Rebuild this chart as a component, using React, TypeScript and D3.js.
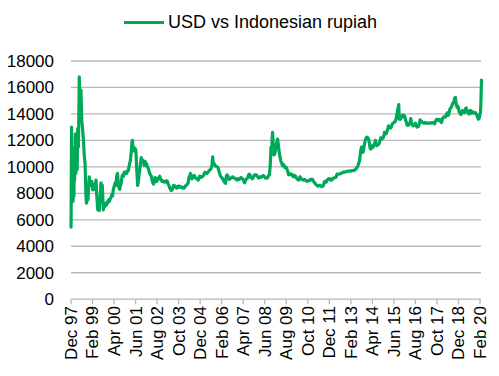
import React from "react";
import * as d3 from "d3";

const legendLabel = "USD vs Indonesian rupiah";
const yTicks = [0, 2000, 4000, 6000, 8000, 10000, 12000, 14000, 16000, 18000];
const xTickLabels = ["Dec 97", "Feb 99", "Apr 00", "Jun 01", "Aug 02", "Oct 03", "Dec 04", "Feb 06", "Apr 07", "Jun 08", "Aug 09", "Oct 10", "Dec 11", "Feb 13", "Apr 14", "Jun 15", "Aug 16", "Oct 17", "Dec 18", "Feb 20"];
const monthsPerTick = 14;
const axisStart = "1997-12-25";

const points: [string, number][] = [
  ["1997-12-26", 5450], ["1998-01-05", 13000], ["1998-01-10", 7300], ["1998-01-14", 11500],
  ["1998-01-20", 8000], ["1998-01-27", 10800], ["1998-02-04", 7400], ["1998-02-12", 10500],
  ["1998-02-20", 7800], ["1998-02-27", 10200], ["1998-03-05", 9000], ["1998-03-19", 12500],
  ["1998-03-30", 9500], ["1998-04-15", 10700], ["1998-04-25", 9800], ["1998-05-05", 12900],
  ["1998-05-20", 11500], ["1998-06-06", 16800], ["1998-06-15", 15000], ["1998-06-26", 14800],
  ["1998-07-09", 15800], ["1998-07-25", 13500], ["1998-08-12", 12800], ["1998-08-28", 12000],
  ["1998-09-14", 10800], ["1998-09-30", 10200], ["1998-10-17", 7750], ["1998-10-27", 7250],
  ["1998-11-10", 8200], ["1998-11-25", 7500], ["1998-12-08", 8400], ["1998-12-21", 9250],
  ["1999-01-05", 8600], ["1999-01-24", 8760], ["1999-02-10", 8900], ["1999-02-26", 8260],
  ["1999-03-15", 8700], ["1999-04-01", 8300], ["1999-04-15", 8500], ["1999-05-03", 9000],
  ["1999-05-18", 7800], ["1999-06-06", 6750], ["1999-06-20", 7100], ["1999-07-06", 6700],
  ["1999-07-22", 7600], ["1999-08-09", 8800], ["1999-08-20", 8300], ["1999-09-05", 8600],
  ["1999-09-25", 6750], ["1999-10-10", 7200], ["1999-10-25", 7000], ["1999-11-10", 7250],
  ["1999-11-25", 7100], ["1999-12-10", 7350], ["1999-12-25", 7300], ["2000-01-10", 7500],
  ["2000-01-25", 7400], ["2000-02-10", 7600], ["2000-02-25", 7700], ["2000-03-10", 7900],
  ["2000-03-25", 7800], ["2000-04-10", 8300], ["2000-04-25", 8500], ["2000-05-18", 8800],
  ["2000-06-01", 8600], ["2000-06-15", 9300], ["2000-07-01", 9500], ["2000-07-15", 8900],
  ["2000-08-01", 8400], ["2000-08-15", 8300], ["2000-09-01", 8600], ["2000-09-15", 8800],
  ["2000-10-01", 9300], ["2000-10-15", 9400], ["2000-11-01", 9300], ["2000-11-15", 9600],
  ["2000-12-01", 9500], ["2000-12-15", 9600], ["2001-01-01", 9500], ["2001-01-15", 9700],
  ["2001-02-01", 9700], ["2001-02-15", 10000], ["2001-03-01", 10300], ["2001-03-15", 10500],
  ["2001-04-01", 11200], ["2001-04-15", 11900], ["2001-04-25", 12000], ["2001-05-05", 11200],
  ["2001-05-20", 11500], ["2001-06-01", 11200], ["2001-06-15", 11400], ["2001-07-01", 11200],
  ["2001-07-15", 10000], ["2001-07-25", 9300], ["2001-08-05", 8600], ["2001-08-20", 8900],
  ["2001-09-01", 9400], ["2001-09-15", 9700], ["2001-10-01", 10300], ["2001-10-15", 10700],
  ["2001-10-25", 10500], ["2001-11-05", 10400], ["2001-11-20", 10500], ["2001-12-01", 10300],
  ["2001-12-15", 10100], ["2002-01-01", 10400], ["2002-01-15", 10300], ["2002-02-01", 10200],
  ["2002-02-15", 10000], ["2002-03-01", 9900], ["2002-03-15", 9700], ["2002-04-01", 9500],
  ["2002-04-15", 9400], ["2002-05-01", 9300], ["2002-05-15", 9000], ["2002-06-01", 8800],
  ["2002-06-15", 8700], ["2002-07-01", 8900], ["2002-07-15", 9200], ["2002-08-01", 9100],
  ["2002-08-15", 8900], ["2002-09-01", 9000], ["2002-09-15", 9100], ["2002-10-01", 9200],
  ["2002-10-15", 9300], ["2002-11-01", 9100], ["2002-11-15", 9000], ["2002-12-01", 8900],
  ["2002-12-15", 8950], ["2003-01-01", 8900], ["2003-01-15", 8850], ["2003-02-01", 8900],
  ["2003-02-15", 8850], ["2003-03-01", 8950], ["2003-03-15", 8900], ["2003-04-01", 8700],
  ["2003-04-15", 8600], ["2003-05-01", 8400], ["2003-05-15", 8300], ["2003-06-01", 8200],
  ["2003-06-15", 8250], ["2003-07-01", 8400], ["2003-07-15", 8600], ["2003-08-01", 8500],
  ["2003-08-15", 8550], ["2003-09-01", 8450], ["2003-09-15", 8400], ["2003-10-01", 8500],
  ["2003-10-15", 8450], ["2003-11-01", 8550], ["2003-11-15", 8500], ["2003-12-01", 8450],
  ["2003-12-15", 8500], ["2004-01-01", 8450], ["2004-01-15", 8400], ["2004-02-01", 8450],
  ["2004-02-15", 8400], ["2004-03-01", 8500], ["2004-03-15", 8600], ["2004-04-01", 8650],
  ["2004-04-15", 8700], ["2004-05-01", 8800], ["2004-05-15", 9200], ["2004-06-01", 9300],
  ["2004-06-15", 9500], ["2004-07-01", 9300], ["2004-07-15", 9100], ["2004-08-01", 9200],
  ["2004-08-15", 9300], ["2004-09-01", 9350], ["2004-09-15", 9200], ["2004-10-01", 9150],
  ["2004-10-15", 9100], ["2004-11-01", 9050], ["2004-11-15", 9000], ["2004-12-01", 9150],
  ["2004-12-15", 9300], ["2005-01-01", 9250], ["2005-01-15", 9200], ["2005-02-01", 9250],
  ["2005-02-15", 9300], ["2005-03-01", 9350], ["2005-03-15", 9500], ["2005-04-01", 9600],
  ["2005-04-15", 9550], ["2005-05-01", 9500], ["2005-05-15", 9550], ["2005-06-01", 9600],
  ["2005-06-15", 9700], ["2005-07-01", 9750], ["2005-07-15", 9800], ["2005-08-01", 9900],
  ["2005-08-15", 10100], ["2005-08-30", 10750], ["2005-09-10", 10300], ["2005-09-25", 10250],
  ["2005-10-10", 10150], ["2005-10-25", 10050], ["2005-11-10", 10050], ["2005-11-25", 10000],
  ["2005-12-10", 9950], ["2005-12-25", 9800], ["2006-01-10", 9550], ["2006-01-25", 9400],
  ["2006-02-10", 9250], ["2006-02-25", 9200], ["2006-03-10", 9100], ["2006-03-25", 9050],
  ["2006-04-10", 8900], ["2006-04-25", 8800], ["2006-05-10", 8750], ["2006-05-25", 9300],
  ["2006-06-10", 9400], ["2006-06-25", 9300], ["2006-07-10", 9150], ["2006-07-25", 9050],
  ["2006-08-10", 9100], ["2006-08-25", 9150], ["2006-09-10", 9200], ["2006-09-25", 9250],
  ["2006-10-10", 9200], ["2006-10-25", 9150], ["2006-11-10", 9150], ["2006-11-25", 9100],
  ["2006-12-10", 9050], ["2006-12-25", 9000], ["2007-01-10", 9100], ["2007-01-25", 9050],
  ["2007-02-10", 9050], ["2007-02-25", 9150], ["2007-03-10", 9200], ["2007-03-25", 9150],
  ["2007-04-10", 9100], ["2007-04-25", 9050], ["2007-05-10", 8850], ["2007-05-25", 8800],
  ["2007-06-10", 9000], ["2007-06-25", 9100], ["2007-07-10", 9100], ["2007-07-25", 9200],
  ["2007-08-10", 9400], ["2007-08-25", 9450], ["2007-09-10", 9350], ["2007-09-25", 9200],
  ["2007-10-10", 9150], ["2007-10-25", 9100], ["2007-11-10", 9200], ["2007-11-25", 9350],
  ["2007-12-10", 9400], ["2007-12-25", 9400], ["2008-01-10", 9400], ["2008-01-25", 9300],
  ["2008-02-10", 9250], ["2008-02-25", 9150], ["2008-03-10", 9200], ["2008-03-25", 9250],
  ["2008-04-10", 9200], ["2008-04-25", 9250], ["2008-05-10", 9300], ["2008-05-25", 9350],
  ["2008-06-10", 9300], ["2008-06-25", 9250], ["2008-07-10", 9150], ["2008-07-25", 9150],
  ["2008-08-10", 9150], ["2008-08-25", 9200], ["2008-09-10", 9350], ["2008-09-25", 9400],
  ["2008-10-10", 10000], ["2008-10-20", 10800], ["2008-10-28", 11500], ["2008-11-10", 11000],
  ["2008-11-20", 12300], ["2008-11-28", 12600], ["2008-12-05", 12000], ["2008-12-15", 11000],
  ["2008-12-25", 10900], ["2009-01-10", 11000], ["2009-01-25", 11300], ["2009-02-10", 11700],
  ["2009-02-25", 12000], ["2009-03-05", 12100], ["2009-03-15", 11800], ["2009-03-25", 11500],
  ["2009-04-10", 11000], ["2009-04-25", 10700], ["2009-05-10", 10400], ["2009-05-25", 10300],
  ["2009-06-10", 10100], ["2009-06-25", 10200], ["2009-07-10", 10100], ["2009-07-25", 9950],
  ["2009-08-10", 10000], ["2009-08-25", 9950], ["2009-09-10", 9800], ["2009-09-25", 9650],
  ["2009-10-10", 9400], ["2009-10-25", 9500], ["2009-11-10", 9450], ["2009-11-25", 9400],
  ["2009-12-10", 9450], ["2009-12-25", 9400], ["2010-01-10", 9250], ["2010-01-25", 9300],
  ["2010-02-10", 9350], ["2010-02-25", 9300], ["2010-03-10", 9150], ["2010-03-25", 9100],
  ["2010-04-10", 9050], ["2010-04-25", 9000], ["2010-05-10", 9150], ["2010-05-25", 9250],
  ["2010-06-10", 9150], ["2010-06-25", 9050], ["2010-07-10", 9050], ["2010-07-25", 9000],
  ["2010-08-10", 9000], ["2010-08-25", 9050], ["2010-09-10", 9000], ["2010-09-25", 8950],
  ["2010-10-10", 8900], ["2010-10-25", 8950], ["2010-11-10", 8950], ["2010-11-25", 8950],
  ["2010-12-10", 9050], ["2010-12-25", 9000], ["2011-01-10", 9050], ["2011-01-25", 9050],
  ["2011-02-10", 8950], ["2011-02-25", 8850], ["2011-03-10", 8800], ["2011-03-25", 8700],
  ["2011-04-10", 8650], ["2011-04-25", 8600], ["2011-05-10", 8550], ["2011-05-25", 8550],
  ["2011-06-10", 8600], ["2011-06-25", 8600], ["2011-07-10", 8550], ["2011-07-25", 8500],
  ["2011-08-10", 8550], ["2011-08-25", 8550], ["2011-09-10", 8750], ["2011-09-25", 8900],
  ["2011-10-10", 8900], ["2011-10-25", 8850], ["2011-11-10", 9000], ["2011-11-25", 9050],
  ["2011-12-10", 9100], ["2011-12-25", 9050], ["2012-01-10", 9100], ["2012-01-25", 9000],
  ["2012-02-10", 9000], ["2012-02-25", 9050], ["2012-03-10", 9150], ["2012-03-25", 9150],
  ["2012-04-10", 9180], ["2012-04-25", 9200], ["2012-05-10", 9250], ["2012-05-25", 9450],
  ["2012-06-10", 9450], ["2012-06-25", 9450], ["2012-07-10", 9450], ["2012-07-25", 9480],
  ["2012-08-10", 9500], ["2012-08-25", 9530], ["2012-09-10", 9580], ["2012-09-25", 9580],
  ["2012-10-10", 9600], ["2012-10-25", 9610], ["2012-11-10", 9620], ["2012-11-25", 9630],
  ["2012-12-10", 9650], ["2012-12-25", 9680], ["2013-01-10", 9680], ["2013-01-25", 9680],
  ["2013-02-10", 9680], ["2013-02-25", 9690], ["2013-03-10", 9720], ["2013-03-25", 9720],
  ["2013-04-10", 9720], ["2013-04-25", 9730], ["2013-05-10", 9760], ["2013-05-25", 9800],
  ["2013-06-10", 9900], ["2013-06-25", 9950], ["2013-07-10", 10050], ["2013-07-25", 10250],
  ["2013-08-10", 10400], ["2013-08-25", 10800], ["2013-09-10", 11300], ["2013-09-25", 11500],
  ["2013-10-10", 11300], ["2013-10-25", 11100], ["2013-11-10", 11500], ["2013-11-25", 11800],
  ["2013-12-10", 12050], ["2013-12-25", 12200], ["2014-01-10", 12250], ["2014-01-25", 12200],
  ["2014-02-10", 12100], ["2014-02-25", 11800], ["2014-03-10", 11400], ["2014-03-25", 11350],
  ["2014-04-10", 11400], ["2014-04-25", 11600], ["2014-05-10", 11500], ["2014-05-25", 11600],
  ["2014-06-10", 11800], ["2014-06-25", 12000], ["2014-07-10", 11700], ["2014-07-25", 11600],
  ["2014-08-10", 11700], ["2014-08-25", 11700], ["2014-09-10", 11800], ["2014-09-25", 12000],
  ["2014-10-10", 12200], ["2014-10-25", 12100], ["2014-11-10", 12150], ["2014-11-25", 12200],
  ["2014-12-10", 12400], ["2014-12-20", 12600], ["2015-01-10", 12600], ["2015-01-25", 12500],
  ["2015-02-10", 12700], ["2015-02-25", 12900], ["2015-03-10", 13100], ["2015-03-25", 13050],
  ["2015-04-10", 12950], ["2015-04-25", 12950], ["2015-05-10", 13100], ["2015-05-25", 13250],
  ["2015-06-10", 13300], ["2015-06-25", 13350], ["2015-07-10", 13400], ["2015-07-25", 13450],
  ["2015-08-10", 13700], ["2015-08-25", 14000], ["2015-09-10", 14350], ["2015-09-29", 14700],
  ["2015-10-08", 13600], ["2015-10-20", 13700], ["2015-11-05", 13600], ["2015-11-20", 13750],
  ["2015-12-10", 13900], ["2015-12-25", 13800], ["2016-01-10", 13900], ["2016-01-25", 13850],
  ["2016-02-10", 13550], ["2016-02-25", 13400], ["2016-03-10", 13150], ["2016-03-25", 13250],
  ["2016-04-10", 13150], ["2016-04-25", 13200], ["2016-05-10", 13350], ["2016-05-25", 13650],
  ["2016-06-10", 13300], ["2016-06-25", 13200], ["2016-07-10", 13100], ["2016-07-25", 13150],
  ["2016-08-10", 13150], ["2016-08-25", 13300], ["2016-09-10", 13150], ["2016-09-25", 13000],
  ["2016-10-10", 13050], ["2016-10-25", 13050], ["2016-11-10", 13250], ["2016-11-25", 13550],
  ["2016-12-10", 13400], ["2016-12-25", 13450], ["2017-01-10", 13350], ["2017-01-25", 13350],
  ["2017-02-10", 13300], ["2017-02-25", 13350], ["2017-03-10", 13350], ["2017-03-25", 13300],
  ["2017-04-10", 13300], ["2017-04-25", 13300], ["2017-05-10", 13330], ["2017-05-25", 13300],
  ["2017-06-10", 13300], ["2017-06-25", 13300], ["2017-07-10", 13350], ["2017-07-25", 13320],
  ["2017-08-10", 13350], ["2017-08-25", 13350], ["2017-09-10", 13250], ["2017-09-25", 13450],
  ["2017-10-10", 13550], ["2017-10-25", 13600], ["2017-11-10", 13550], ["2017-11-25", 13500],
  ["2017-12-10", 13580], ["2017-12-25", 13550], ["2018-01-10", 13400], ["2018-01-25", 13350],
  ["2018-02-10", 13650], ["2018-02-25", 13700], ["2018-03-10", 13780], ["2018-03-25", 13780],
  ["2018-04-10", 13770], ["2018-04-25", 13900], ["2018-05-10", 14050], ["2018-05-25", 14100],
  ["2018-06-10", 13900], ["2018-06-25", 14150], ["2018-07-10", 14400], ["2018-07-25", 14450],
  ["2018-08-10", 14550], ["2018-08-25", 14700], ["2018-09-10", 14850], ["2018-09-25", 14900],
  ["2018-10-10", 15200], ["2018-10-25", 15250], ["2018-11-10", 14700], ["2018-11-25", 14500],
  ["2018-12-10", 14600], ["2018-12-25", 14450], ["2019-01-10", 14150], ["2019-01-25", 14100],
  ["2019-02-10", 13950], ["2019-02-25", 14050], ["2019-03-10", 14250], ["2019-03-25", 14200],
  ["2019-04-10", 14150], ["2019-04-25", 14100], ["2019-05-10", 14400], ["2019-05-25", 14450],
  ["2019-06-10", 14250], ["2019-06-25", 14150], ["2019-07-10", 14050], ["2019-07-25", 14000],
  ["2019-08-10", 14250], ["2019-08-25", 14250], ["2019-09-10", 14050], ["2019-09-25", 14150],
  ["2019-10-10", 14150], ["2019-10-25", 14050], ["2019-11-10", 14050], ["2019-11-25", 14100],
  ["2019-12-10", 14000], ["2019-12-25", 13900], ["2020-01-10", 13700], ["2020-01-25", 13600],
  ["2020-02-10", 13700], ["2020-02-25", 14000], ["2020-03-05", 14200], ["2020-03-12", 14800],
  ["2020-03-19", 15800], ["2020-03-23", 16550], ["2020-03-26", 16300],
];

const W = 499;
const H = 376;
const FONT = "'Liberation Sans', Arial, Helvetica, sans-serif";
const GREEN = "#00a859";

function monthIndex(s: string): number {
  const [y, m, d] = s.split("-").map(Number);
  const dim = new Date(y, m, 0).getDate();
  return (y - 1997) * 12 + (m - 12) + (d - 1) / dim;
}

export default function App() {
  const nTicks = xTickLabels.length;
  const m0 = monthIndex(axisStart);
  const x = d3.scaleLinear().domain([m0, m0 + (nTicks - 1) * monthsPerTick]).range([71, 480]);
  const y = d3.scaleLinear().domain([0, 18000]).range([299.2, 61]);
  const line = d3
    .line<[string, number]>()
    .x((p) => x(monthIndex(p[0])))
    .y((p) => y(p[1]));

  return (
    <svg width={W} height={H} style={{ position: "absolute", left: 0, top: 0, background: "#fff" }} fontFamily={FONT}>
      <line x1={124} x2={164} y1={22.5} y2={22.5} stroke={GREEN} strokeWidth={3} />
      <text x={168} y={28} fontSize={18} fill="#000">{legendLabel}</text>
      {yTicks.map((t) => (
        <line key={t} x1={71} x2={481} y1={y(t)} y2={y(t)} stroke="#b7b7b7" strokeWidth={1.3} />
      ))}
      {yTicks.map((t) => (
        <text key={"l" + t} x={54} y={y(t)} dy="0.35em" textAnchor="end" fontSize={17} fill="#000">{t}</text>
      ))}
      {xTickLabels.map((lab, i) => {
        const xp = x(m0 + i * monthsPerTick);
        return (
          <g key={lab}>
            <line x1={xp} x2={xp} y1={y(0)} y2={y(0) + 5} stroke="#b7b7b7" strokeWidth={1.3} />
            <text transform={`translate(${xp},306) rotate(-90)`} dy="0.35em" textAnchor="end" fontSize={17} fill="#000">{lab}</text>
          </g>
        );
      })}
      <path d={line(points) || ""} fill="none" stroke={GREEN} strokeWidth={3.2} strokeLinejoin="round" strokeLinecap="round" />
    </svg>
  );
}
